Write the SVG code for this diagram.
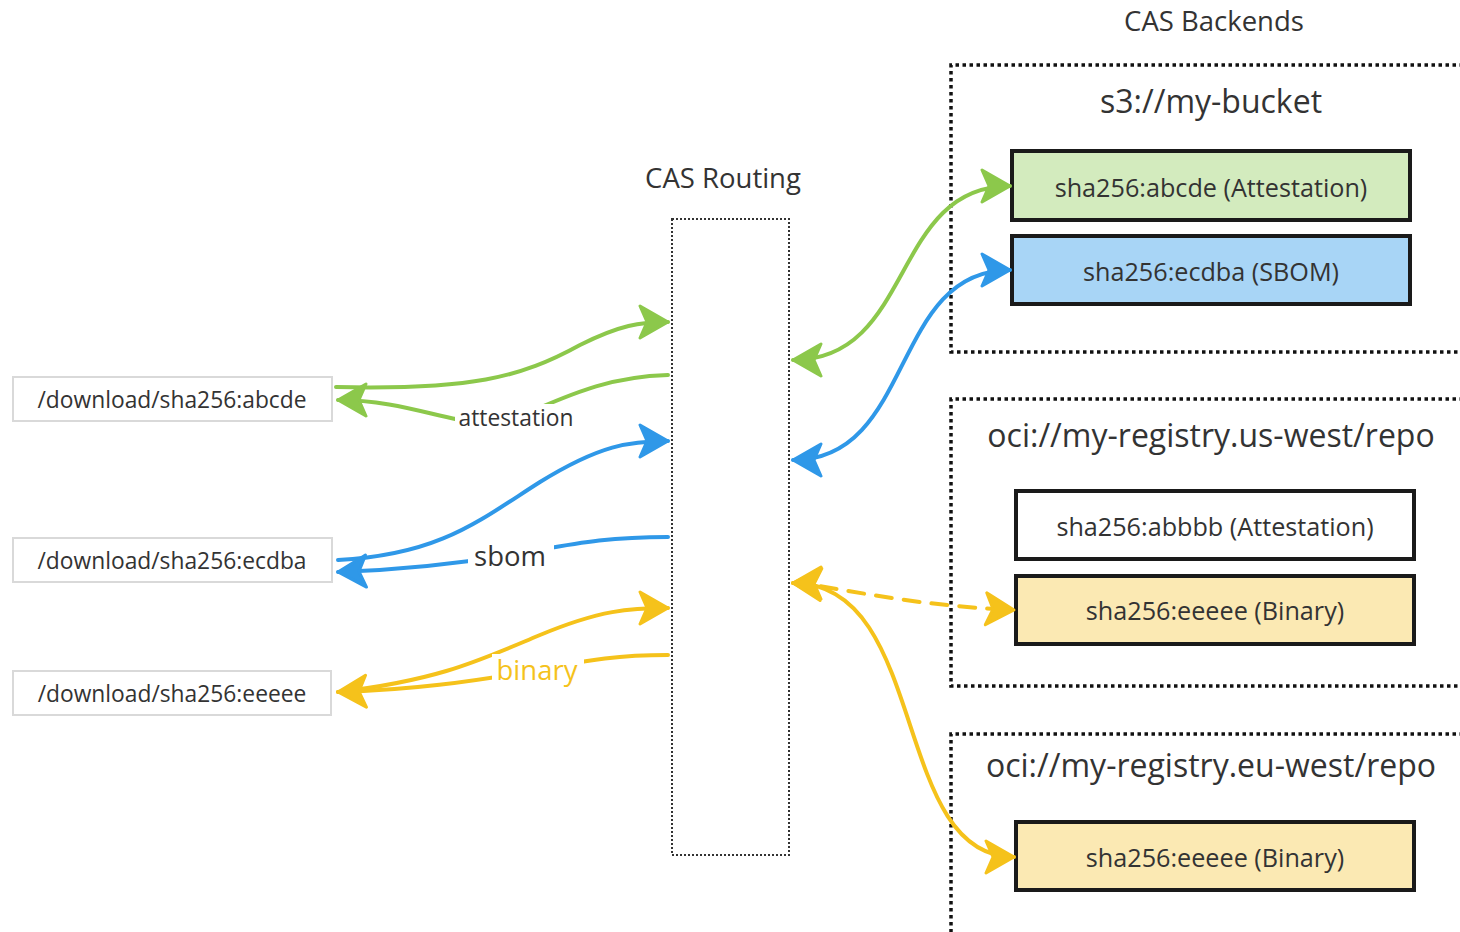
<svg xmlns="http://www.w3.org/2000/svg" width="1460" height="932" viewBox="0 0 1460 932">
  <style>
    text { font-family: "Open Sans", "Noto Sans", "Liberation Sans", sans-serif; fill: #333; text-anchor: middle; dominant-baseline: central; }
    .title { font-size: 27.5px; }
    .group-title { font-size: 32px; }
    .blob { font-size: 25.2px; }
    .route { font-size: 22.8px; }
    .backend { fill: none; stroke: #111; stroke-width: 3.5; stroke-dasharray: 3.5 3.5; }
    .router { fill: none; stroke: #333; stroke-width: 2; stroke-dasharray: 2 2; }
    .store { stroke: #1a1a1a; stroke-width: 4; }
    .endpoint { fill: #fff; stroke: #d9d9d9; stroke-width: 2; }
    .wire { fill: none; stroke-width: 4; stroke-linecap: round; }
    .green { stroke: #8cc84b; }
    .blue { stroke: #2f98e8; }
    .yellow { stroke: #f5c21b; }
    .label-bg { fill: #fff; }
  </style>
  <defs>
    <marker id="head-green" viewBox="0 0 32 36" refX="30" refY="18" markerWidth="32" markerHeight="36" markerUnits="userSpaceOnUse" orient="auto-start-reverse">
      <path d="M2,2 L30,18 L2,34 L9,18 Z" fill="#8cc84b" stroke="#8cc84b" stroke-width="3" stroke-linejoin="round"/>
    </marker>
    <marker id="head-blue" viewBox="0 0 32 36" refX="30" refY="18" markerWidth="32" markerHeight="36" markerUnits="userSpaceOnUse" orient="auto-start-reverse">
      <path d="M2,2 L30,18 L2,34 L9,18 Z" fill="#2f98e8" stroke="#2f98e8" stroke-width="3" stroke-linejoin="round"/>
    </marker>
    <marker id="head-yellow" viewBox="0 0 32 36" refX="30" refY="18" markerWidth="32" markerHeight="36" markerUnits="userSpaceOnUse" orient="auto-start-reverse">
      <path d="M2,2 L30,18 L2,34 L9,18 Z" fill="#f5c21b" stroke="#f5c21b" stroke-width="3" stroke-linejoin="round"/>
    </marker>
  </defs>

  <rect width="1460" height="932" fill="#fff"/>

  <!-- Download endpoints -->
  <g id="endpoint-abcde">
    <rect class="endpoint" x="13" y="377" width="319" height="44"/>
    <text class="route" x="172" y="399">/download/sha256:abcde</text>
  </g>
  <g id="endpoint-ecdba">
    <rect class="endpoint" x="13" y="538" width="319" height="44"/>
    <text class="route" x="172" y="560">/download/sha256:ecdba</text>
  </g>
  <g id="endpoint-eeeee">
    <rect class="endpoint" x="13" y="671" width="318" height="44"/>
    <text class="route" x="172" y="693">/download/sha256:eeeee</text>
  </g>

  <!-- Router -->
  <g id="cas-routing">
    <text class="title" x="723" y="177">CAS Routing</text>
    <rect class="router" x="672" y="219" width="117" height="636"/>
  </g>

  <!-- Backends -->
  <g id="cas-backends">
    <text class="title" x="1214" y="20">CAS Backends</text>
  </g>
  <g id="backend-s3">
    <path class="backend" d="M1470,65 H951 V352 H1470"/>
    <text class="group-title" x="1211" y="100">s3://my-bucket</text>
  </g>
  <g id="blob-s3-abcde">
    <rect class="store" x="1012" y="151" width="398" height="69" fill="#d3ebbe"/>
    <text class="blob" x="1211" y="187">sha256:abcde (Attestation)</text>
  </g>
  <g id="blob-s3-ecdba">
    <rect class="store" x="1012" y="236" width="398" height="68" fill="#a8d5f6"/>
    <text class="blob" x="1211" y="271">sha256:ecdba (SBOM)</text>
  </g>

  <g id="backend-us-west">
    <path class="backend" d="M1470,399 H951 V686 H1470"/>
    <text class="group-title" x="1211" y="434">oci://my-registry.us-west/repo</text>
  </g>
  <g id="blob-us-abbbb">
    <rect class="store" x="1016" y="491" width="398" height="68" fill="#fff"/>
    <text class="blob" x="1215" y="526">sha256:abbbb (Attestation)</text>
  </g>
  <g id="blob-us-eeeee">
    <rect class="store" x="1016" y="576" width="398" height="68" fill="#fbe9b3"/>
    <text class="blob" x="1215" y="610">sha256:eeeee (Binary)</text>
  </g>

  <g id="backend-eu-west">
    <path class="backend" d="M1470,734 H951 V932"/>
    <text class="group-title" x="1211" y="764">oci://my-registry.eu-west/repo</text>
  </g>
  <g id="blob-eu-eeeee">
    <rect class="store" x="1016" y="822" width="398" height="68" fill="#fbe9b3"/>
    <text class="blob" x="1215" y="857">sha256:eeeee (Binary)</text>
  </g>

  <!-- Connectors -->
  <g id="connectors">
    <!-- attestation -->
    <path class="wire green" d="M336,387 C470,390 520,378 580,345 C620,325 640,322 668,322" marker-end="url(#head-green)"/>
    <path class="wire green" d="M668,375 C600,377 560,400 515,418 C470,436 420,400 338,400" marker-end="url(#head-green)"/>
    <rect class="label-bg" x="455" y="404" width="122" height="28"/>
    <text class="route" x="516" y="417">attestation</text>

    <!-- sbom -->
    <path class="wire blue" d="M338,560 C440,555 480,520 540,482 C600,445 630,441 668,441" marker-end="url(#head-blue)"/>
    <path class="wire blue" d="M668,537 C600,537 570,545 510,555 C450,565 400,570 338,572" marker-end="url(#head-blue)"/>
    <rect class="label-bg" x="468" y="538" width="86" height="34"/>
    <text x="510" y="555" style="font-size:27.5px">sbom</text>

    <!-- binary -->
    <path class="wire yellow" d="M338,692 C440,680 480,660 540,635 C600,610 630,608 668,608" marker-end="url(#head-yellow)"/>
    <path class="wire yellow" d="M668,655 C600,655 570,665 537,670 C470,682 410,690 338,692" marker-end="url(#head-yellow)"/>
    <rect class="label-bg" x="492" y="654" width="92" height="34"/>
    <text x="537" y="669" style="font-size:27.5px; fill:#f5c21b">binary</text>

    <!-- router to backends -->
    <path class="wire green" d="M793,360 C915,360 890,186 1010,186" marker-start="url(#head-green)" marker-end="url(#head-green)"/>
    <path class="wire blue" d="M793,460 C915,460 890,270 1010,270" marker-start="url(#head-blue)" marker-end="url(#head-blue)"/>
    <path class="wire yellow" d="M793,583 C830,585 900,605 1014,610" stroke-dasharray="16 12" marker-start="url(#head-yellow)" marker-end="url(#head-yellow)"/>
    <path class="wire yellow" d="M793,583 C930,583 890,857 1014,857" marker-start="url(#head-yellow)" marker-end="url(#head-yellow)"/>
  </g>
</svg>
